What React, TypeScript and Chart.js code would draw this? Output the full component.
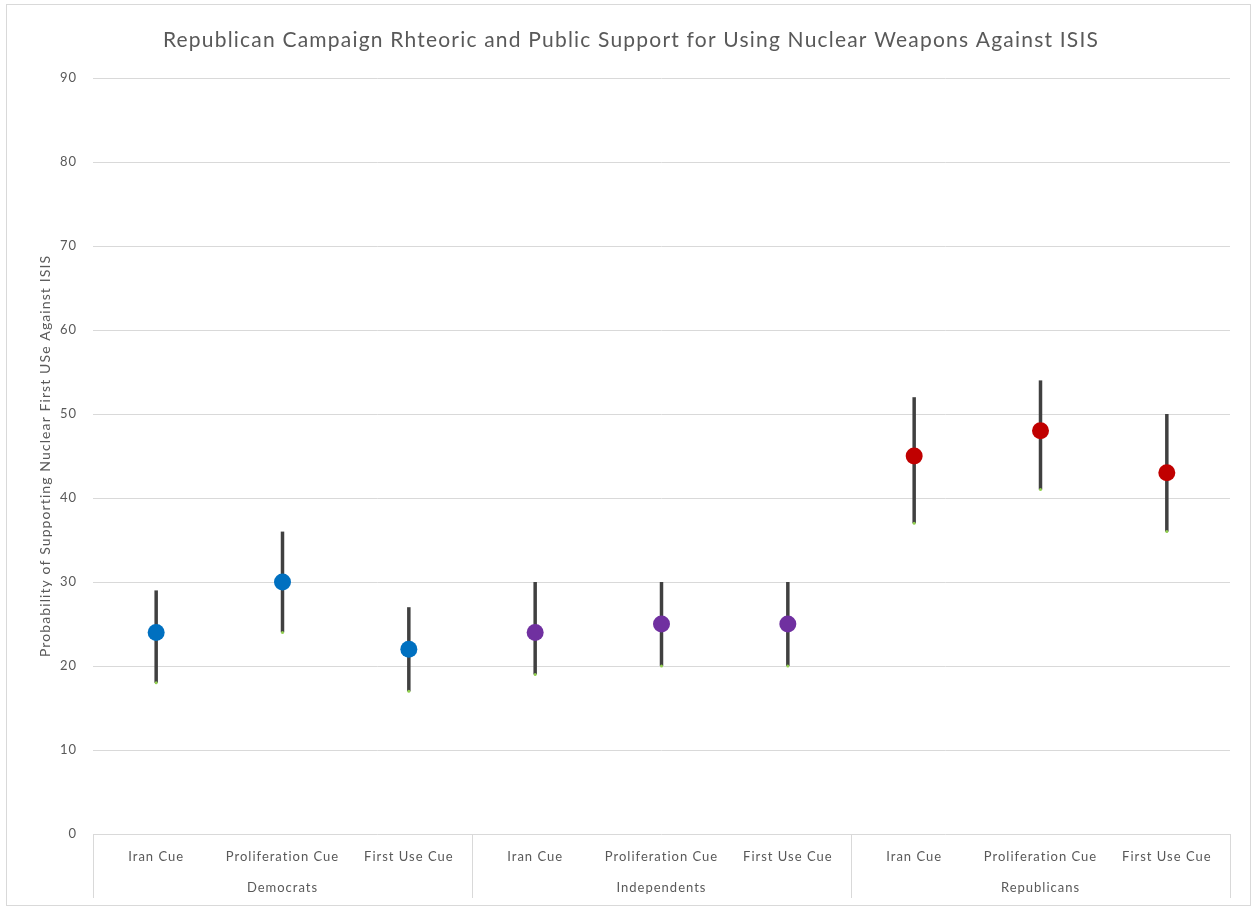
import React, { useEffect, useRef } from "react";
import { Chart, registerables } from "chart.js";

Chart.register(...registerables);

const TITLE = "Republican Campaign Rhteoric and Public Support for Using Nuclear Weapons Against ISIS";
const Y_TITLE = "Probability of Supporting Nuclear First USe Against ISIS";
const cues = ["Iran Cue", "Proliferation Cue", "First Use Cue", "Iran Cue", "Proliferation Cue", "First Use Cue", "Iran Cue", "Proliferation Cue", "First Use Cue"];
const groups = ["Democrats", "Independents", "Republicans"];
const estimates = [24, 30, 22, 24, 25, 25, 45, 48, 43];
const upper = [29, 36, 27, 30, 30, 30, 52, 54, 50];
const lower = [18, 24, 17, 19, 20, 20, 37, 41, 36];
const groupColors = ["#0070c0", "#7030a0", "#c00000"];

const FONT = "Lato, 'Open Sans', sans-serif";
const GREY = "#595959";
const LINE = "#d9d9d9";

const decorPlugin = {
  id: "decor",
  beforeUpdate(chart: any) {
    chart.ctx.letterSpacing = "1px";
  },
  beforeLayout(chart: any) {
    chart.ctx.letterSpacing = "1px";
  },
  beforeDraw(chart: any) {
    chart.ctx.letterSpacing = "1px";
  },
  beforeDatasetsDraw(chart: any) {
    const ctx = chart.ctx;
    const x = chart.scales.x;
    const y = chart.scales.y;
    ctx.save();
    for (let i = 0; i < estimates.length; i++) {
      const px = x.getPixelForValue(i);
      const yt = y.getPixelForValue(upper[i]);
      const yb = y.getPixelForValue(lower[i]);
      ctx.strokeStyle = "#404040";
      ctx.lineWidth = 3.5;
      ctx.beginPath();
      ctx.moveTo(px, yt);
      ctx.lineTo(px, yb);
      ctx.stroke();
      ctx.fillStyle = "#92d050";
      ctx.beginPath();
      ctx.arc(px, yb, 1.5, 0, Math.PI * 2);
      ctx.fill();
    }
    ctx.restore();
  },
  afterDraw(chart: any) {
    const ctx = chart.ctx;
    const x = chart.scales.x;
    const area = chart.chartArea;
    ctx.save();
    ctx.strokeStyle = LINE;
    ctx.lineWidth = 1;
    ctx.strokeRect(6.5, 4.5, 1244, 901);
    ctx.fillStyle = GREY;
    ctx.font = `21px ${FONT}`;
    ctx.letterSpacing = "1.2px";
    ctx.textAlign = "center";
    ctx.textBaseline = "middle";
    ctx.fillText(TITLE, 631, 40);
    ctx.save();
    ctx.translate(45, (area.top + area.bottom) / 2);
    ctx.rotate(-Math.PI / 2);
    ctx.font = `14px ${FONT}`;
    ctx.letterSpacing = "1.1px";
    ctx.fillText(Y_TITLE, 0, 0);
    ctx.restore();
    const edges = [x.left];
    for (let g = 1; g < groups.length; g++) {
      edges.push((x.getPixelForValue(g * 3 - 1) + x.getPixelForValue(g * 3)) / 2);
    }
    edges.push(x.right);
    ctx.strokeStyle = LINE;
    ctx.lineWidth = 1;
    for (const e of edges) {
      const ex = Math.round(e) + 0.5;
      ctx.beginPath();
      ctx.moveTo(ex, area.bottom);
      ctx.lineTo(ex, 898);
      ctx.stroke();
    }
    ctx.font = `13px ${FONT}`;
    ctx.letterSpacing = "1px";
    ctx.fillStyle = GREY;
    for (let g = 0; g < groups.length; g++) {
      ctx.fillText(groups[g], (edges[g] + edges[g + 1]) / 2, 888);
    }
    ctx.restore();
  },
};

export default function App() {
  const ref = useRef<HTMLCanvasElement>(null);
  useEffect(() => {
    const colors = estimates.map((_, i) => groupColors[Math.floor(i / 3)]);
    const chart = new Chart(ref.current as HTMLCanvasElement, {
      type: "line",
      data: {
        labels: cues,
        datasets: [
          {
            data: estimates,
            showLine: false,
            pointRadius: 8.5,
            pointHoverRadius: 8.5,
            pointBackgroundColor: colors,
            pointBorderColor: colors,
            pointBorderWidth: 0,
          },
        ],
      },
      options: {
        animation: false,
        responsive: false,
        events: [],
        layout: { padding: { left: 0, right: 25, top: 78, bottom: 0 } },
        plugins: {
          legend: { display: false },
          title: { display: false },
          tooltip: { enabled: false },
        },
        scales: {
          x: {
            offset: true,
            grid: { display: false, drawTicks: false },
            border: { display: false },
            ticks: {
              autoSkip: false,
              maxRotation: 0,
              color: GREY,
              font: { family: FONT, size: 13 },
              padding: 15,
            },
            afterFit(scale: any) {
              scale.height = 73;
            },
          },
          y: {
            min: 0,
            max: 90,
            grid: { color: LINE, drawTicks: false, lineWidth: 1 },
            border: { display: false },
            ticks: {
              stepSize: 10,
              color: GREY,
              font: { family: FONT, size: 13 },
              padding: 16,
            },
            afterFit(scale: any) {
              scale.width = 93;
            },
          },
        },
      },
      plugins: [decorPlugin],
    });
    return () => chart.destroy();
  }, []);
  return (
    <div style={{ position: "absolute", left: 0, top: 0, width: 1255, height: 907, background: "#fff" }}>
      <canvas ref={ref} width={1255} height={907} style={{ width: 1255, height: 907, display: "block" }} />
    </div>
  );
}
